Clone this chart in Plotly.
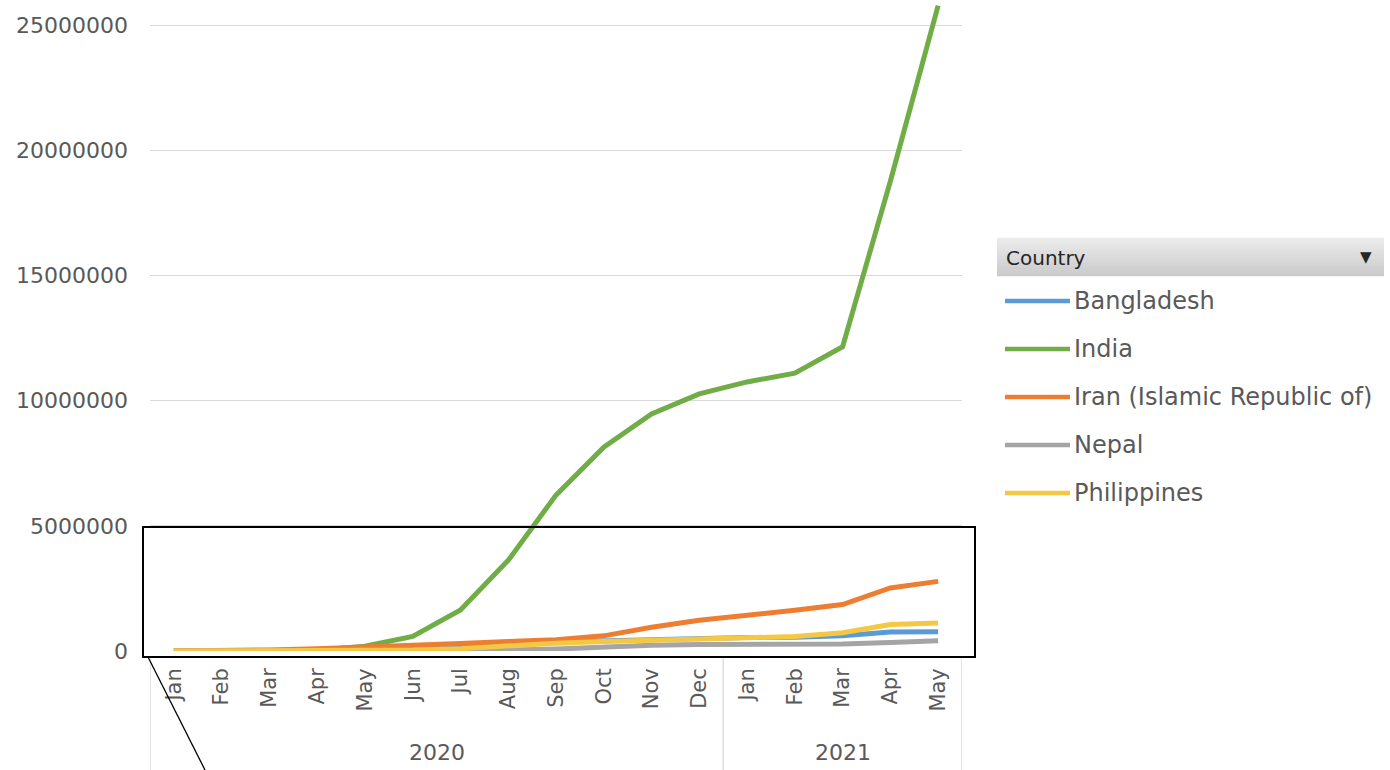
import plotly.graph_objects as go

# ---------------- data ----------------
months = ["Jan", "Feb", "Mar", "Apr", "May", "Jun", "Jul", "Aug", "Sep", "Oct", "Nov", "Dec",
          "Jan", "Feb", "Mar", "Apr", "May"]
years = ["2020"] * 12 + ["2021"] * 5

countries = ["Bangladesh", "India", "Iran (Islamic Republic of)", "Nepal", "Philippines"]
colors = ["#5B9BD5", "#70AD47", "#ED7D31", "#A5A5A5", "#F5C843"]

bangladesh = [0, 0, 51, 7667, 47153, 145483, 237661, 312996, 363479, 405164, 467225, 513510,
              535139, 546216, 611295, 759132, 765000]
india = [1, 3, 1397, 34863, 190535, 585493, 1638870, 3621245, 6225763, 8137119, 9462809, 10266674,
         10746174, 11096731, 12149335, 18762976, 25772440]
iran = [0, 593, 44605, 94640, 151466, 227662, 301530, 375212, 449960, 604952, 948749, 1225142,
        1411731, 1631169, 1855674, 2516157, 2780000]
nepal = [1, 1, 5, 57, 1572, 13564, 19547, 37340, 77817, 170743, 230787, 260593,
         270588, 273621, 276839, 343418, 410000]
philippines = [1, 3, 2084, 8488, 18086, 37514, 93354, 220819, 311694, 380729, 429864, 474064,
               523308, 576352, 731894, 1054983, 1120000]
series = [bangladesh, india, iran, nepal, philippines]

y_ticks = [0, 5000000, 10000000, 15000000, 20000000, 25000000]

# ---------------- layout helpers ----------------
W, H = 1390, 770
PL, PR, PT, PB = 150, 962, 0, 651
FONT = "DejaVu Sans"
TXT = "#595959"
GRID = "#D9D9D9"


def px(x):
    return (x - PL) / (PR - PL)


def py(y):
    return (PB - y) / (PB - PT)


xs = list(range(len(months)))

fig = go.Figure()
for name, vals, col in zip(countries, series, colors):
    fig.add_trace(go.Scatter(x=xs, y=vals, mode="lines", name=name,
                             line=dict(color=col, width=5), showlegend=False))

shapes = []
annotations = []

# year group labels and dividers
groups = []
for i, yr in enumerate(years):
    if not groups or groups[-1][0] != yr:
        groups.append([yr, i, i])
    else:
        groups[-1][2] = i
bounds = [-0.5] + [g[2] + 0.5 for g in groups]
for b in bounds:
    shapes.append(dict(type="line", xref="x", yref="paper", x0=b, x1=b,
                       y0=py(656), y1=py(770), line=dict(color=GRID, width=1.3)))
for yr, a, b in groups:
    annotations.append(dict(x=(a + b) / 2, y=py(752), xref="x", yref="paper", text=yr,
                            showarrow=False, font=dict(family=FONT, size=22, color=TXT),
                            xanchor="center", yanchor="middle"))

# zoom-box style annotation drawn over the chart
shapes.append(dict(type="rect", xref="paper", yref="paper", x0=px(143), x1=px(975),
                   y0=py(657), y1=py(527), line=dict(color="black", width=2),
                   fillcolor="rgba(0,0,0,0)"))
shapes.append(dict(type="line", xref="paper", yref="paper", x0=px(148), y0=py(657),
                   x1=px(205), y1=py(770), line=dict(color="black", width=1.3)))

# legend header (smooth gradient bar, one strip per pixel row)
hx0, hx1, hy0, hy1 = 997, 1384, 238, 276
n_strips = hy1 - hy0
for k in range(n_strips):
    t = k / (n_strips - 1)
    c = int(round(236 - 34 * t))
    ya = hy0 + k
    yb = hy0 + k + 1
    shapes.append(dict(type="rect", xref="paper", yref="paper", x0=px(hx0), x1=px(hx1),
                       y0=py(yb + 0.3), y1=py(ya - 0.3), line=dict(width=0),
                       fillcolor=f"rgb({c},{c},{c})", layer="below"))
annotations.append(dict(x=px(1004), y=py(258), xref="paper", yref="paper", text="Country",
                        showarrow=False, xanchor="left", yanchor="middle",
                        font=dict(family=FONT, size=20, color="#262626")))
annotations.append(dict(x=px(1366), y=py(257), xref="paper", yref="paper", text="▼",
                        showarrow=False, xanchor="center", yanchor="middle",
                        font=dict(family=FONT, size=15, color="#262626")))

# legend entries
for i, (name, col) in enumerate(zip(countries, colors)):
    yy = 301 + 48 * i
    shapes.append(dict(type="line", xref="paper", yref="paper", x0=px(1005), x1=px(1070),
                       y0=py(yy), y1=py(yy), line=dict(color=col, width=4.5)))
    annotations.append(dict(x=px(1072), y=py(yy), xref="paper", yref="paper", text=name,
                            showarrow=False, xanchor="left", yanchor="middle",
                            font=dict(family=FONT, size=24, color=TXT)))

fig.update_layout(
    width=W, height=H,
    margin=dict(l=PL, r=W - PR, t=PT, b=H - PB),
    paper_bgcolor="white", plot_bgcolor="white",
    showlegend=False,
    shapes=shapes, annotations=annotations,
    font=dict(family=FONT, color=TXT),
)
fig.update_xaxes(range=[-0.5, len(months) - 0.5], tickmode="array", tickvals=xs, ticktext=months,
                 tickangle=-90, tickfont=dict(family=FONT, size=21, color=TXT),
                 showgrid=False, zeroline=False, showline=False, ticks="",
                 ticklabelstandoff=12)
fig.update_yaxes(range=[0, 26000000], tickmode="array", tickvals=y_ticks,
                 ticktext=[str(v) for v in y_ticks],
                 tickfont=dict(family=FONT, size=22, color=TXT),
                 showgrid=True, gridcolor=GRID, gridwidth=1.3, zeroline=False,
                 showline=False, ticks="", ticklabelstandoff=21)

fig.write_html("out.html")
